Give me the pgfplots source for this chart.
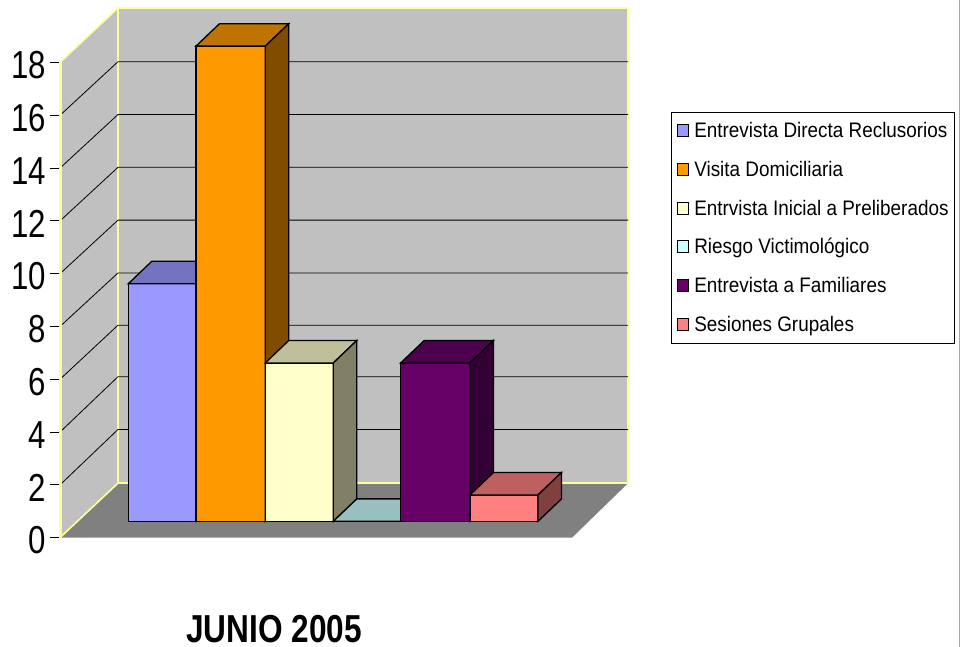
\documentclass[border=0pt]{standalone}
\usepackage{fontspec}
\setmainfont{Liberation Sans}
\newfontfamily\tickfont[FakeStretch=0.8]{Liberation Sans}
\newfontfamily\legfont[FakeStretch=0.9]{Liberation Sans}
\newfontfamily\titlefont[FakeStretch=0.81]{Liberation Sans}
\usepackage{pgfplots}
\pgfplotsset{compat=1.18}

\definecolor{wall}{HTML}{C0C0C0}
\definecolor{floorc}{HTML}{808080}
\definecolor{edgey}{HTML}{FFFF99}
\definecolor{fa}{HTML}{9999FF}\definecolor{ta}{HTML}{7373BF}\definecolor{sa}{HTML}{4D4D80}
\definecolor{fb}{HTML}{FF9900}\definecolor{tb}{HTML}{BF7300}\definecolor{sb}{HTML}{804D00}
\definecolor{fc}{HTML}{FFFFCC}\definecolor{tc}{HTML}{BFBF99}\definecolor{sc}{HTML}{808066}
\definecolor{fd}{HTML}{CCFFFF}\definecolor{td}{HTML}{99BFBF}\definecolor{sd}{HTML}{668080}
\definecolor{fe}{HTML}{660066}\definecolor{te}{HTML}{4D004D}\definecolor{se}{HTML}{330033}
\definecolor{ff}{HTML}{FF8080}\definecolor{tf}{HTML}{BF6060}\definecolor{sf}{HTML}{804040}

% y of the bar feet and the depth of a bar, in axis units (x is in px)
\def\barbase{0.62}
\def\bardy{0.85}
\def\bardx{23.5}

% x0, x1, value, front, top, side
\newcommand{\threedbar}[6]{%
  \pgfmathsetmacro\yt{\barbase+#3}%
  \pgfmathsetmacro\ytb{\yt+\bardy}%
  \pgfmathsetmacro\ybb{\barbase+\bardy}%
  \pgfmathsetmacro\xab{#1+\bardx}%
  \pgfmathsetmacro\xbb{#2+\bardx}%
  \edef\tmp{\noexpand\addplot[barline,fill=#4,forget plot] coordinates {(#1,\barbase)(#2,\barbase)(#2,\yt)(#1,\yt)} --cycle;
    \noexpand\addplot[barline,fill=#5,forget plot] coordinates {(#1,\yt)(#2,\yt)(\xbb,\ytb)(\xab,\ytb)} --cycle;
    \noexpand\addplot[barline,fill=#6,forget plot] coordinates {(#2,\barbase)(\xbb,\ybb)(\xbb,\ytb)(#2,\yt)} --cycle;}%
  \tmp
}

\begin{document}
\begin{tikzpicture}[barline/.style={draw=black,line width=1.3pt,line join=miter}]
\path[use as bounding box] (-60pt,-109.3pt) rectangle (900pt,537.7pt);
\begin{axis}[
  scale only axis, width=512pt, height=475.2pt,
  anchor=origin, at={(0pt,0pt)},
  xmin=60, xmax=572, ymin=0, ymax=18,
  clip=false,
  axis x line=none, axis y line=left,
  y axis line style={-,black,line width=0.8pt},
  xtick=\empty, ytick={0,2,...,18},
  tick align=outside,
  major tick length=10pt,
  tick style={black,line width=0.8pt},
  y tick label style={font=\fontsize{39}{39}\selectfont\tickfont, inner sep=0pt, xshift=-4pt, yshift=-2.5pt},
  /pgf/number format/assume math mode=true,
  legend image code/.code={\draw[#1] (0pt,-6pt) rectangle (11pt,6pt);\path (16.5pt,0pt);},
  legend cell align=left,
  legend style={at={(axis cs:670.5,16.14)},anchor=north west,draw=black,line width=0.8pt,
    font=\fontsize{21}{21}\selectfont\legfont,
    inner xsep=6pt, inner ysep=8.75pt, row sep=18.7pt,
    nodes={inner sep=0pt,text height=17pt,text depth=3pt}},
]
% walls and floor
\addplot[fill=wall,draw=edgey,line width=1.5pt,forget plot] coordinates {(60,0)(118,2.064)(118,20.064)(60,18)} --cycle;
\addplot[fill=wall,draw=edgey,line width=1.5pt,forget plot] coordinates {(118,2.064)(628,2.064)(628,20.064)(118,20.064)} --cycle;
\addplot[fill=floorc,draw=none,forget plot] coordinates {(60,0)(572,0)(628,2.064)(118,2.064)} --cycle;
\addplot[draw=edgey,line width=1.5pt,forget plot] coordinates {(60,0)(118,2.064)(628,2.064)};
% gridlines on the left wall and the back wall
\addplot[black,line width=0.8pt,forget plot] coordinates {(60,2)(118,4.1)(628,4.1)};
\addplot[black,line width=0.8pt,forget plot] coordinates {(60,4)(118,6.1)(628,6.1)};
\addplot[black,line width=0.8pt,forget plot] coordinates {(60,6)(118,8.05)(628,8.05)};
\addplot[black,line width=0.8pt,forget plot] coordinates {(60,8)(118,10.03)(628,10.03)};
\addplot[black,line width=0.8pt,forget plot] coordinates {(60,10)(118,12.03)(628,12.03)};
\addplot[black,line width=0.8pt,forget plot] coordinates {(60,12)(118,14.03)(628,14.03)};
\addplot[black,line width=0.8pt,forget plot] coordinates {(60,14)(118,16.03)(628,16.03)};
\addplot[black,line width=0.8pt,forget plot] coordinates {(60,16)(118,18.03)(628,18.03)};
% yellow edge beside the value axis
\addplot[draw=edgey,line width=1.2pt,forget plot] coordinates {(61,0)(61,18)};
% right edge of the slide
\addplot[draw=gray!70,line width=1pt,forget plot] coordinates {(959.5,-4.14)(959.5,20.37)};

% bars
\threedbar{128.3}{196}{9}{fa}{ta}{sa}
\threedbar{196}{265.3}{18}{fb}{tb}{sb}
\threedbar{265.3}{333.3}{6}{fc}{tc}{sc}
\threedbar{333.3}{400.7}{0}{fd}{td}{sd}
\threedbar{400.7}{470}{6}{fe}{te}{se}
\threedbar{470}{538}{1}{ff}{tf}{sf}

\addlegendimage{draw=black,line width=0.9pt,fill=fa}
\addlegendentry{Entrevista Directa Reclusorios}
\addlegendimage{draw=black,line width=0.9pt,fill=fb}
\addlegendentry{Visita Domiciliaria}
\addlegendimage{draw=black,line width=0.9pt,fill=fc}
\addlegendentry{Entrvista Inicial a Preliberados}
\addlegendimage{draw=black,line width=0.9pt,fill=fd}
\addlegendentry{Riesgo Victimológico}
\addlegendimage{draw=black,line width=0.9pt,fill=fe}
\addlegendentry{Entrevista a Familiares}
\addlegendimage{draw=black,line width=0.9pt,fill=ff}
\addlegendentry{Sesiones Grupales}

\node[anchor=base,inner sep=0pt,font=\fontsize{39}{39}\selectfont\titlefont\bfseries] at (axis cs:274,-3.96) {JUNIO 2005};
\end{axis}
\end{tikzpicture}
\end{document}
